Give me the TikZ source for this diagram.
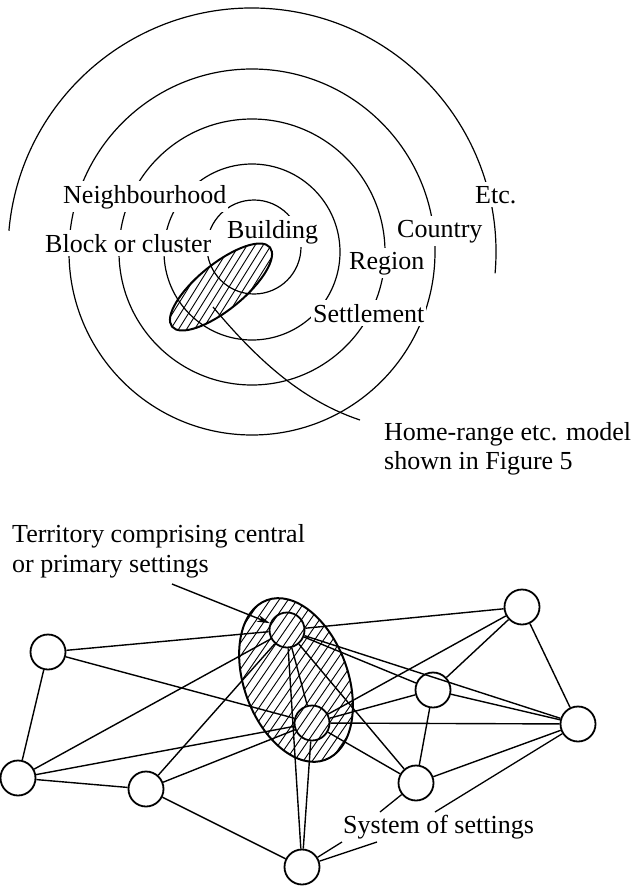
\documentclass[tikz,border=0pt]{standalone}
\usepackage{fontspec}
\setmainfont{Liberation Serif}
\usetikzlibrary{arrows.meta}
\begin{document}
\begin{tikzpicture}[x=1pt,y=-1pt,
  every node/.style={font=\fontsize{26}{30}\selectfont},
  ring/.style={line width=1.2pt},
  cut/.style={fill=white, inner xsep=2pt, inner ysep=3.5pt, anchor=base west},
  txt/.style={inner sep=0pt, anchor=base west},
  hatch/.style={line width=0.9pt},
  rim/.style={line width=2pt},
  edge/.style={line width=1.4pt},
  site/.style={circle, draw, line width=1.8pt, minimum size=35pt, inner sep=0pt},
  lead/.style={line width=1.3pt}]
\useasboundingbox (0,0) rectangle (639,886);

% ---------- nested spatial scales ----------
\draw[ring] (252,252) ++(5:244) arc[start angle=5, end angle=-175, radius=244];
\foreach \r in {183,133,88} \draw[ring] (252,252) circle[radius=\r];
\draw[ring] (254,247) circle[radius=47];

% labels sit on white boxes that break the rings
\node[cut] (nbh) at (61,203) {Neighbourhood};
\node[cut] (blk) at (43,252) {Block or cluster};
\node[cut] (bld) at (225,238) {Building};
\node[cut] (etc) at (473,203) {Etc.};
\node[cut] (cty) at (395,237) {Country};
\node[cut] (reg) at (347,269) {Region};
\node[cut] (stl) at (311,322) {Settlement};

% hatched home-range ellipse
\begin{scope}
  \clip[rotate around={39:(221,287)}] (221,287) ellipse[x radius=63, y radius=23];
  \foreach \k in {-14,...,14}
    \draw[hatch] (221+\k*8-70, 287+112) -- (221+\k*8+70, 287-112);
\end{scope}
\draw[rim, rotate around={39:(221,287)}] (221,287) ellipse[x radius=63, y radius=23];

\coordinate (hrA) at (213,307);
\coordinate (hrB) at (360,420);
\draw[ring] (hrA) .. controls (255,357) and (300,400) .. (hrB);
\node[txt] (hr1) at (384,440) {Home-range etc. model};
\node[txt] (hr2) at (384,469) {shown in Figure 5};

% ---------- system of settings ----------
\begin{scope}
  \clip[rotate around={110:(296,680)}] (296,680) ellipse[x radius=85, y radius=52];
  \foreach \k in {-22,...,22}
    \draw[hatch] (296+\k*9-110, 680+160) -- (296+\k*9+110, 680-160);
\end{scope}
\draw[rim, rotate around={110:(296,680)}] (296,680) ellipse[x radius=85, y radius=52];

\node[site] (UL) at (48,652) {};
\node[site] (L)  at (18,778) {};
\node[site] (ML) at (146,789) {};
\node[site] (B)  at (302,867) {};
\node[site] (C1) at (287,630) {};
\node[site] (C2) at (312,723) {};
\node[site] (MR) at (433,690) {};
\node[site] (BR) at (416,783) {};
\node[site] (TR) at (522,607) {};
\node[site] (R)  at (578,724) {};

\foreach \a/\b in {UL/C1, UL/C2, UL/L, L/C1, L/C2, L/ML, ML/C1, ML/C2, ML/B,
                   C1/B, C2/B, C1/C2, C1/TR, C1/MR, C1/R, C1/BR,
                   C2/TR, C2/MR, C2/R, C2/BR, TR/MR, TR/R, MR/R, MR/BR, BR/R}
  \draw[edge] (\a) -- (\b);

\node[txt] (t1) at (12,542) {Territory comprising central};
\node[txt] (t2) at (12,572) {or primary settings};
\coordinate (tA) at (172,584);
\draw[edge, -{Stealth[length=13pt, width=7pt]}] (tA) -- (C1);

\node[txt] (sys) at (343,833) {System of settings};
\coordinate (s1) at (380,812);
\coordinate (s2) at (435,812);
\coordinate (s3) at (342,842);
\coordinate (s4) at (377,842);
\draw[lead] (s1) -- (BR);
\draw[lead] (s2) -- (R);
\draw[lead] (s3) -- (B);
\draw[lead] (s4) -- (B);
\end{tikzpicture}
\end{document}
